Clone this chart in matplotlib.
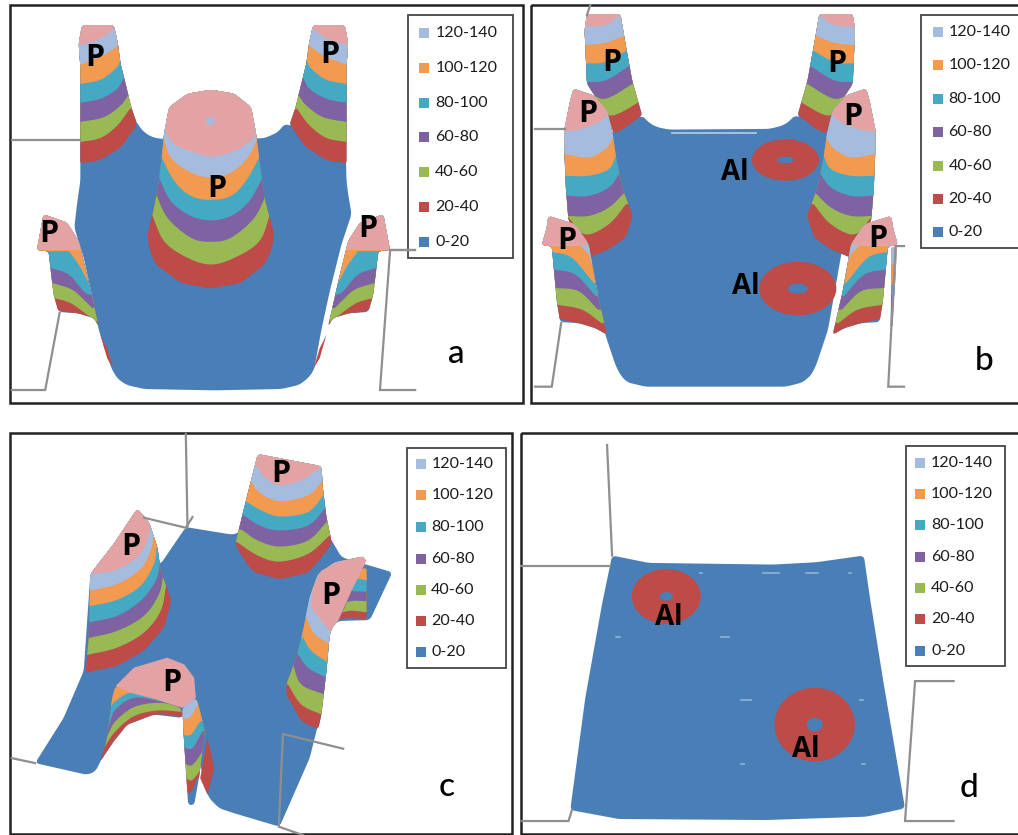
import numpy as np
import matplotlib
matplotlib.use("Agg")
import matplotlib.pyplot as plt
from matplotlib.patches import Polygon, Ellipse, Rectangle

plt.rcParams['font.family'] = ['Lato', 'DejaVu Sans']

labels = ['120-140', '100-120', '80-100', '60-80', '40-60', '20-40', '0-20']
# 0-20 up to 120-140, then the cap above 140
blue = '#4a7eb6'
band_colors = ['#bd4b48', '#98b954', '#7e62a1', '#46a9c4', '#f29a50', '#a6bcdf', '#e3a3a5']
legend_colors = band_colors[5::-1] + [blue]
grey = '#8f8f8f'
S = 2.987

# ---- panel a ----
a_body = [(240, 420), (240, 540), (230, 610), (222, 680), (250, 770), (272, 870), (295, 985), (315, 1050), (335, 1105),
          (352, 1132), (378, 1150), (430, 1162), (640, 1166), (840, 1162), (893, 1150), (920, 1130), (938, 1105),
          (960, 985), (985, 870), (1020, 730), (1050, 640), (1040, 580), (1035, 540), (1032, 420), (850, 370),
          (830, 395), (790, 413), (480, 415), (450, 408), (425, 390), (405, 360)]
a_back = [(245, 75), (340, 75), (352, 130), (360, 190), (375, 250), (392, 320), (410, 372), (362, 440), (300, 478),
          (240, 490), (240, 200), (235, 130)]
a_back_bands = [
    [(235, 488), (300, 478), (360, 440), (410, 372)],
    [(235, 425), (300, 412), (350, 375), (388, 325)],
    [(235, 365), (310, 350), (360, 315), (383, 285)],
    [(235, 308), (300, 295), (350, 265), (370, 232)],
    [(235, 252), (300, 238), (345, 205), (360, 180)],
    [(235, 195), (300, 170), (340, 145), (355, 130)],
    [(235, 135), (290, 120), (330, 95), (345, 78)],
]
a_mid = [(630, 268), (700, 280), (750, 320), (765, 400), (775, 480), (790, 590), (800, 630), (820, 700), (810, 750),
         (790, 790), (720, 845), (630, 862), (540, 845), (465, 790), (448, 750), (440, 700), (458, 630), (470, 570),
         (482, 480), (490, 400), (505, 320), (560, 280)]
a_mid_bands = [
    [(430, 690), (465, 790), (540, 845), (630, 862), (720, 845), (790, 790), (830, 690)],
    [(450, 630), (490, 720), (560, 770), (630, 790), (700, 770), (775, 720), (810, 630)],
    [(462, 570), (500, 650), (570, 710), (630, 722), (690, 710), (760, 650), (800, 570)],
    [(470, 520), (510, 600), (570, 645), (630, 658), (690, 645), (745, 600), (790, 520)],
    [(478, 460), (520, 540), (570, 585), (630, 597), (690, 585), (735, 540), (780, 460)],
    [(485, 400), (510, 470), (570, 515), (630, 530), (690, 515), (740, 470), (775, 400)],
    [(490, 385), (520, 430), (580, 455), (630, 468), (690, 455), (750, 420), (770, 385)],
]
a_front = [(130, 640), (200, 665), (235, 720), (262, 830), (295, 975), (280, 950), (230, 935), (175, 932), (160, 880),
           (145, 750), (110, 748)]
a_front_bands = [
    [(170, 925), (230, 942), (265, 958), (295, 985)],
    [(160, 890), (210, 905), (260, 940), (285, 960)],
    [(155, 845), (215, 865), (255, 900), (275, 920)],
    [(150, 800), (205, 820), (250, 870), (268, 880)],
    [(205, 750), (235, 790), (262, 840)],
    [(232, 720), (245, 745), (250, 770)],
    [(105, 748), (240, 748)],
]
a_sliver = [(300, 1000), (320, 1040), (338, 1100), (320, 1070)]
a_lines = [[(35, 418), (240, 418)], [(35, 1165), (135, 1165), (178, 935)], [(1165, 748), (1240, 748)],
           [(1165, 750), (1135, 1165), (1240, 1165)]]
a_text = [(283, 172), (985, 165), (648, 565), (147, 698), (1098, 685)]

# ---- panel b ----
b_body = [(270, 395), (350, 345), (372, 368), (395, 380), (430, 387), (730, 385), (770, 375), (790, 362), (805, 345),
          (1035, 400), (1035, 650), (950, 730), (905, 985), (870, 1090), (855, 1120), (830, 1142), (780, 1155), (360, 1155),
          (305, 1142), (285, 1120), (270, 1090), (240, 1000), (190, 730), (130, 650), (130, 400)]
b_back = [(185, 42), (285, 42), (300, 130), (320, 240), (350, 345), (320, 372), (265, 400), (250, 350), (185, 250), (178, 90)]
b_back_bands = [
    [(240, 350), (265, 400), (355, 340)],
    [(215, 310), (260, 345), (350, 300)],
    [(185, 270), (240, 295), (330, 245)],
    [(178, 245), (240, 240), (315, 195)],
    [(178, 190), (240, 185), (305, 150)],
    [(178, 135), (240, 128), (300, 105)],
    [(178, 80), (240, 75), (290, 42)],
]
b_mid = [(145, 265), (205, 285), (245, 330), (262, 400), (272, 470), (290, 560), (322, 645), (300, 710), (250, 745),
         (190, 770), (130, 660), (122, 560), (118, 460), (117, 390), (135, 300)]
b_mid_bands = [
    [(130, 690), (190, 770), (250, 745), (300, 710), (330, 640)],
    [(130, 650), (180, 700), (250, 670), (302, 610)],
    [(125, 645), (190, 645), (250, 620), (298, 575)],
    [(122, 585), (190, 585), (250, 560), (285, 515)],
    [(118, 525), (190, 525), (250, 505), (272, 465)],
    [(117, 460), (190, 470), (240, 445), (265, 410)],
    [(117, 395), (170, 385), (220, 365), (250, 340)],
]
b_front = [(70, 645), (150, 670), (190, 730), (215, 870), (245, 1000), (210, 980), (160, 965), (105, 962), (95, 900),
           (80, 735), (50, 733), (65, 680)]
b_front_bands = [
    [(100, 952), (170, 970), (245, 1005)],
    [(95, 910), (170, 925), (228, 965)],
    [(90, 860), (160, 870), (218, 925)],
    [(85, 805), (150, 820), (212, 885)],
    [(80, 752), (140, 770), (205, 845)],
    [(165, 735), (190, 760), (200, 790)],
    [(50, 733), (185, 733)],
]
b_sliver = [(1095, 740), (1110, 740), (1108, 800), (1098, 975), (1092, 975)]
b_sliver_bands = [[(1085, 975), (1115, 975)], [(1085, 880), (1115, 880)], [(1085, 850), (1115, 850)], [(1085, 790), (1115, 790)]]
b_lines = [[(30, 385), (118, 385)], [(30, 1155), (80, 1155), (108, 965)], [(195, 15), (185, 45)],
           [(1132, 735), (1107, 735), (1085, 1155), (1132, 1155)]]
b_rings = [(778, 478, 100, 62, 25, 10), (815, 862, 115, 80, 30, 15)]
b_p_text = [(258, 188), (930, 192), (188, 340), (125, 720), (1053, 715), (978, 350)]
b_al_text = [(628, 515), (660, 855)]

# ---- panel c ----
c_body = [(555, 290), (690, 312), (705, 310), (720, 300), (985, 320), (1020, 380), (1172, 425), (1105, 568), (1010, 570),
          (985, 600), (950, 880), (925, 980), (835, 1185), (700, 1145), (655, 1130), (625, 1100), (610, 1060), (590, 950), (545, 850),
          (345, 770), (335, 920), (300, 990), (285, 1020), (260, 1030), (105, 995), (190, 860), (250, 720), (270, 430), (480, 400)]
c_left = [(410, 235), (445, 275), (470, 350), (480, 420), (512, 510), (490, 590), (430, 660), (350, 705), (255, 725),
          (265, 620), (268, 500), (270, 430), (340, 340)]
c_left_bands = [
    [(250, 727), (350, 705), (440, 650), (490, 590), (515, 500)],
    [(260, 672), (350, 650), (430, 605), (480, 540), (497, 460)],
    [(262, 622), (350, 600), (430, 555), (475, 490), (488, 430)],
    [(265, 575), (350, 555), (420, 510), (465, 450), (478, 400)],
    [(265, 527), (350, 507), (420, 465), (460, 400), (468, 350)],
    [(268, 480), (350, 460), (420, 415), (450, 360), (458, 320)],
    [(268, 430), (340, 420), (410, 380), (440, 330), (450, 275)],
]
c_top = [(770, 72), (960, 108), (965, 180), (975, 260), (990, 330), (982, 370), (960, 400), (915, 428), (835, 446),
         (760, 425), (715, 385), (703, 340), (725, 250), (745, 170)]
c_top_bands = [
    [(700, 340), (760, 425), (835, 446), (915, 428), (1000, 330)],
    [(708, 335), (770, 375), (835, 393), (920, 370), (985, 315)],
    [(722, 298), (770, 330), (835, 348), (920, 330), (980, 270)],
    [(728, 255), (775, 285), (835, 300), (920, 285), (975, 230)],
    [(738, 215), (780, 240), (835, 258), (920, 245), (970, 190)],
    [(750, 155), (780, 190), (835, 212), (920, 195), (965, 150)],
    [(760, 100), (790, 140), (835, 165), (900, 150), (960, 110)],
]
c_right_back = [(1095, 410), (1095, 565), (1010, 570), (1030, 530), (1060, 450), (1070, 420)]
c_right_back_bands = [
    [(1005, 572), (1040, 562), (1100, 567)],
    [(1020, 545), (1050, 540), (1100, 545)],
    [(1030, 515), (1060, 510), (1100, 512)],
    [(1040, 480), (1065, 482), (1100, 483)],
    [(1055, 450), (1070, 445), (1100, 450)],
]
c_right = [(1085, 378), (1050, 470), (1005, 560), (985, 610), (975, 720), (960, 850), (950, 895), (900, 870), (855, 790),
           (855, 760), (885, 680), (905, 600), (925, 500), (950, 430), (1000, 395)]
c_right_bands = [
    [(850, 770), (880, 860), (950, 898)],
    [(860, 760), (900, 820), (960, 850)],
    [(875, 700), (900, 760), (968, 790)],
    [(890, 670), (920, 710), (975, 740)],
    [(905, 620), (930, 660), (980, 695)],
    [(915, 560), (940, 610), (987, 640)],
]
c_right_cap = [(1085, 378), (1095, 390), (1050, 480), (1010, 570), (985, 600), (960, 570), (930, 530), (935, 470),
               (960, 420), (1010, 395)]
c_front_left = [(345, 765), (540, 830), (545, 860), (460, 850), (380, 880), (340, 930), (300, 990), (320, 920), (335, 800)]
c_front_left_bands = [
    [(300, 990), (345, 925), (400, 878), (470, 850), (545, 858)],
    [(310, 950), (345, 900), (400, 855), (470, 838), (545, 842)],
    [(320, 915), (345, 870), (400, 828), (470, 815), (545, 825)],
    [(325, 885), (345, 835), (400, 800), (470, 808), (545, 820)],
    [(330, 830), (345, 810), (390, 785), (450, 800)],
]
c_front_right = [(545, 830), (585, 800), (595, 830), (612, 900), (595, 1035), (580, 1120), (562, 1120), (555, 1010), (548, 900)]
c_front_right_bands = [
    [(555, 1080), (570, 1082), (590, 1040)],
    [(555, 1040), (575, 1045), (610, 1000)],
    [(550, 995), (575, 1000), (612, 950)],
    [(548, 948), (575, 950), (605, 900)],
    [(545, 910), (570, 910), (598, 870)],
    [(540, 860), (565, 860), (592, 820)],
]
c_front_sliver = [(620, 920), (640, 1010), (620, 1090), (598, 1040)]
c_front_cap = [(345, 765), (400, 710), (500, 680), (550, 700), (580, 740), (585, 800), (545, 830), (450, 800), (390, 785)]
c_lines = [[(555, 12), (560, 290)], [(575, 260), (555, 292), (430, 262)], [(35, 980), (105, 995)],
           [(1025, 952), (845, 908), (833, 1185), (905, 1210)]]
c_text = [(840, 132), (390, 350), (988, 497), (512, 757)]

# ---- panel d ----
d_body = [(290, 375), (400, 397), (770, 402), (900, 395), (1042, 375), (1060, 500), (1100, 750), (1165, 1130),
          (1050, 1155), (750, 1165), (310, 1162), (165, 1135), (210, 800), (260, 520)]
d_rings = [(452, 497, 103, 82, 20, 13), (895, 880, 120, 110, 24, 20)]
d_dashes = [(740, 790, 427), (870, 905, 427), (615, 640, 618), (675, 705, 807), (303, 315, 618), (552, 560, 427),
            (998, 1005, 427), (1030, 1038, 807), (675, 683, 997), (1037, 1044, 997)]
d_lines = [[(275, 45), (290, 375)], [(18, 405), (285, 405)], [(20, 1168), (160, 1168), (170, 1135)],
           [(1310, 750), (1195, 750), (1165, 1168), (1310, 1168)]]
d_al_text = [(460, 560), (868, 955)]


def smooth(pts, n=12):
    # catmull-rom through the read points
    p = np.array(pts, dtype=float)
    if len(p) < 3:
        return p
    p = np.vstack([2 * p[0] - p[1], p, 2 * p[-1] - p[-2]])
    out = []
    for i in range(1, len(p) - 2):
        for t in np.linspace(0, 1, n, endpoint=False):
            out.append(0.5 * (2 * p[i] + (p[i + 1] - p[i - 1]) * t
                              + (2 * p[i - 1] - 5 * p[i] + 4 * p[i + 1] - p[i + 2]) * t ** 2
                              + (3 * p[i] - p[i - 1] - 3 * p[i + 1] + p[i + 2]) * t ** 3))
    out.append(p[-2])
    return np.array(out)


def round_off(pts, d=7, passes=2):
    # cut each corner a little so the outlines do not look faceted
    p = np.array(pts, dtype=float)
    for _ in range(passes):
        out = []
        for i in range(len(p)):
            a, b = p[i], p[(i + 1) % len(p)]
            seg = np.linalg.norm(b - a)
            t = min(0.3, d / max(seg, 1))
            out.append(a + (b - a) * t)
            out.append(b - (b - a) * t)
        p = np.array(out)
        d = d / 2
    return p


def flip(pts, c):
    return [(2 * c - x, y) for x, y in pts]


def surface(ax, outline, color=blue):
    patch = Polygon(round_off(outline), closed=True, fc=color, ec='none')
    ax.add_patch(patch)
    return patch


def peak(ax, outline, bands, mirror=None):
    if mirror is not None:
        outline = flip(outline, mirror)
        bands = [flip(b, mirror) for b in bands]
    sil = Polygon(round_off(outline, d=6), closed=True, fc=blue, ec='none')
    ax.add_patch(sil)
    for curve, col in zip(bands, band_colors):
        c = smooth(sorted(curve))
        # run the curve out sideways and up, the outline cuts it back
        xy = np.vstack([[c[0, 0] - 400, c[0, 1]], c, [c[-1, 0] + 400, c[-1, 1]],
                        [c[-1, 0] + 400, -100], [c[0, 0] - 400, -100]])
        layer = Polygon(xy, closed=True, fc=col, ec='none')
        ax.add_patch(layer)
        layer.set_clip_path(sil)


def rings(ax, data):
    for x, y, rx, ry, hx, hy in data:
        ax.add_patch(Ellipse((x, y), 2 * rx, 2 * ry, fc=band_colors[0], ec='none'))
        ax.add_patch(Ellipse((x, y), 2 * hx, 2 * hy, fc=blue, ec='none'))


def legend_box(ax, x0, x1, y0, y1, ys, mx, tx):
    ax.add_patch(Rectangle((x0, y0), x1 - x0, y1 - y0, fc='white', ec='#444444', lw=1.3, clip_on=False))
    for y, lab, col in zip(ys, labels, legend_colors):
        ax.add_patch(Rectangle((mx, y - 15), 30, 30, fc=col, ec='none'))
        ax.text(tx, y, lab, fontsize=11.5, va='center', ha='left', color='#1a1a1a')


def grey_lines(ax, lines):
    for ln in lines:
        ax.plot(*zip(*ln), color=grey, lw=1.6, solid_joinstyle='miter')


def tags(ax, where, text, size=22):
    for x, y in where:
        ax.text(x, y, text, family='Open Sans', fontsize=size, fontweight='bold', ha='center', va='center', color='black')


W, H = 1018, 835
fig = plt.figure(figsize=(W / 100, H / 100), dpi=100)


def panel(x, y, w, h, frame):
    ax = fig.add_axes([x / W, 1 - (y + h) / H, w / W, h / H])
    ax.set_xlim(0, w * S)
    ax.set_ylim(h * S, 0)
    ax.axis('off')
    fx0, fx1, fy0, fy1 = frame
    ax.add_patch(Rectangle((fx0, fy0), fx1 - fx0, fy1 - fy0, fc='none', ec='#222222', lw=1.8, clip_on=False))
    return ax


# a
ax = panel(0, 0, 525, 405, (30, 1562, 15, 1203))
grey_lines(ax, a_lines)
surface(ax, a_body)
peak(ax, a_back, a_back_bands)
peak(ax, a_back, a_back_bands, mirror=637.5)
ax.add_patch(Polygon(a_sliver, closed=True, fc=band_colors[0], ec='none'))
ax.add_patch(Polygon(flip(a_sliver, 637.5), closed=True, fc=band_colors[0], ec='none'))
peak(ax, a_mid, a_mid_bands)
ax.add_patch(Ellipse((628, 362), 26, 24, fc='#a6bcdf', ec='none'))
peak(ax, a_front, a_front_bands)
peak(ax, a_front, a_front_bands, mirror=637.5)
legend_box(ax, 1218, 1532, 45, 772, [98, 202, 307, 410, 515, 618, 722], 1252, 1300)
grey_lines(ax, [a_lines[2]])
tags(ax, a_text, 'P')
ax.text(1362, 1058, 'a', fontsize=24, fontweight='medium', ha='center', va='center', color='black')

# b
ax = panel(525, 0, 493, 405, (18, 1490, 15, 1203))
grey_lines(ax, b_lines)
surface(ax, b_body)
ax.plot([440, 690], [397, 397], color='#b5cde6', lw=1.2)
rings(ax, b_rings)
peak(ax, b_back, b_back_bands)
peak(ax, b_back, b_back_bands, mirror=582)
peak(ax, b_mid, b_mid_bands)
peak(ax, b_mid, b_mid_bands, mirror=582)
peak(ax, b_front, b_front_bands)
peak(ax, b_front, b_front_bands, mirror=582)
for curve, col in zip(b_sliver_bands, ['#7e62a1', '#46a9c4', '#f29a50', '#a6bcdf']):
    layer = Polygon([curve[0], curve[1], (curve[1][0], 735), (curve[0][0], 735)], closed=True, fc=col, ec='none')
    ax.add_patch(layer)
    clip = Polygon(b_sliver, closed=True, fc='none', ec='none')
    ax.add_patch(clip)
    layer.set_clip_path(clip)
legend_box(ax, 1182, 1500, 45, 740, [97, 195, 297, 395, 495, 593, 692], 1220, 1265)
tags(ax, b_p_text, 'P')
tags(ax, b_al_text, 'Al', size=20)
ax.text(1370, 1078, 'b', fontsize=24, fontweight='medium', ha='center', va='center', color='black')

# c
ax = panel(0, 430, 520, 405, (30, 1530, 10, 1208))
grey_lines(ax, c_lines[:3])
surface(ax, c_body)
grey_lines(ax, c_lines[3:])
peak(ax, c_left, c_left_bands)
peak(ax, c_top, c_top_bands)
peak(ax, c_right_back, c_right_back_bands)
peak(ax, c_right, c_right_bands)
ax.add_patch(Polygon(c_right_cap, closed=True, fc=band_colors[6], ec='none'))
ax.add_patch(Polygon(c_front_sliver, closed=True, fc=band_colors[0], ec='none'))
peak(ax, c_front_left, c_front_left_bands)
peak(ax, c_front_right, c_front_right_bands)
ax.add_patch(Polygon(c_front_cap, closed=True, fc=band_colors[6], ec='none'))
legend_box(ax, 1215, 1510, 55, 712, [102, 195, 290, 385, 478, 570, 663], 1242, 1288)
tags(ax, c_text, 'P')
ax.text(1335, 1066, 'c', fontsize=24, fontweight='medium', ha='center', va='center', color='black')

# d
ax = panel(515, 430, 503, 405, (18, 1520, 10, 1208))
grey_lines(ax, d_lines)
surface(ax, d_body)
rings(ax, d_rings)
for x0, x1, y in d_dashes:
    ax.plot([x0, x1], [y, y], color='#8fb3d9', lw=1.2)
legend_box(ax, 1168, 1465, 48, 705, [98, 190, 285, 378, 472, 565, 660], 1195, 1243)
tags(ax, d_al_text, 'Al', size=20)
ax.text(1355, 1068, 'd', fontsize=24, fontweight='medium', ha='center', va='center', color='black')

fig.savefig('out.png', dpi=100, facecolor='white')
